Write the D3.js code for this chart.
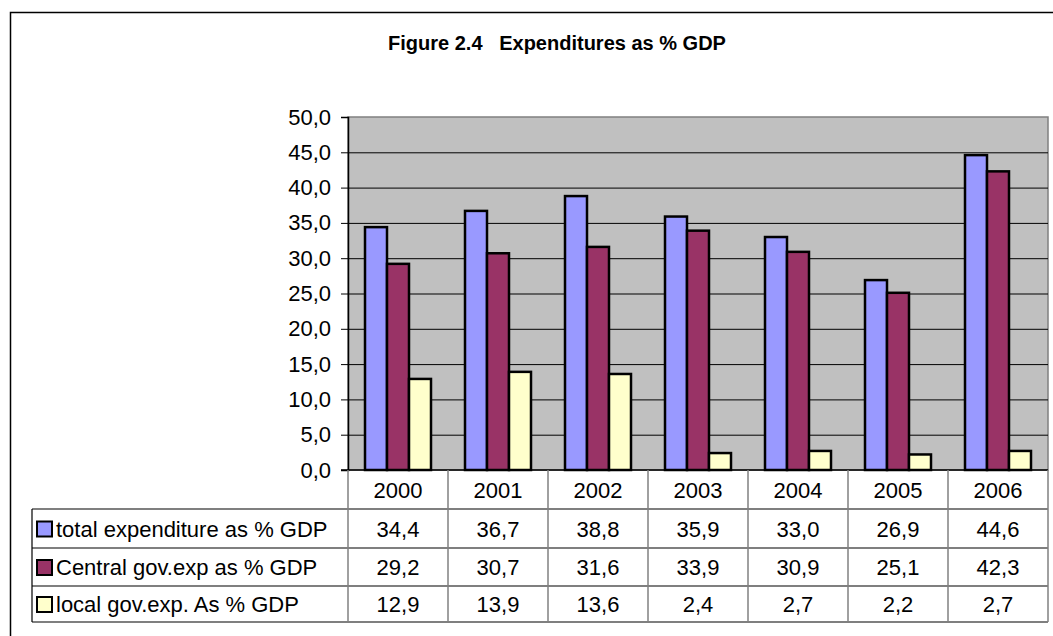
<!DOCTYPE html>
<html>
<head>
<meta charset="utf-8">
<script src="https://cdn.jsdelivr.net/npm/d3@7"></script>
<style>
  body { margin: 0; background: #fff; }
  svg { display: block; font-family: Arial, "Liberation Sans", sans-serif; }
</style>
</head>
<body>
<div id="chart"></div>
<script>
var years = ["2000", "2001", "2002", "2003", "2004", "2005", "2006"];
var seriesNames = ["total expenditure as % GDP", "Central gov.exp as % GDP", "local gov.exp. As % GDP"];
var totalExp = [34.4, 36.7, 38.8, 35.9, 33.0, 26.9, 44.6];
var centralExp = [29.2, 30.7, 31.6, 33.9, 30.9, 25.1, 42.3];
var localExp = [12.9, 13.9, 13.6, 2.4, 2.7, 2.2, 2.7];
var yTicks = [0, 5, 10, 15, 20, 25, 30, 35, 40, 45, 50];
var colors = ["#9999ff", "#993366", "#ffffcc"];

var series = [totalExp, centralExp, localExp];

var width = 1053, height = 636;
var svg = d3.select("#chart").append("svg")
    .attr("width", width)
    .attr("height", height);

// outer frame (cut off on right/bottom like the picture)
svg.append("rect")
    .attr("x", 10.5).attr("y", 12.5)
    .attr("width", 1060).attr("height", 650)
    .attr("fill", "#fff")
    .attr("stroke", "#000").attr("stroke-width", 1.5);

svg.append("text")
    .attr("x", 557).attr("y", 50)
    .attr("text-anchor", "middle")
    .attr("font-size", "20px")
    .attr("font-weight", "bold")
    .style("white-space", "pre")
    .text("Figure 2.4   Expenditures as % GDP");

var plot = { x0: 348, x1: 1048, y0: 117, y1: 470 };

var x = d3.scaleBand()
    .domain(years)
    .range([plot.x0, plot.x1])
    .paddingInner(0.34)
    .paddingOuter(0.17);

var xs = d3.scaleBand()
    .domain(d3.range(series.length))
    .range([0, x.bandwidth()]);

var y = d3.scaleLinear()
    .domain([0, 50])
    .range([plot.y1, plot.y0]);

// plot background
svg.append("rect")
    .attr("x", plot.x0).attr("y", plot.y0)
    .attr("width", plot.x1 - plot.x0).attr("height", plot.y1 - plot.y0)
    .attr("fill", "#c0c0c0")
    .attr("stroke", "#808080").attr("stroke-width", 1.5);

// gridlines
svg.append("g")
    .selectAll("line")
    .data(yTicks.filter(d => d > 0 && d < 50))
    .join("line")
      .attr("x1", plot.x0).attr("x2", plot.x1)
      .attr("y1", d => y(d) + 0.5).attr("y2", d => y(d) + 0.5)
      .attr("stroke", "#000").attr("stroke-width", 1);

// y axis
var yAxis = svg.append("g")
    .attr("transform", "translate(" + plot.x0 + ",0)")
    .call(d3.axisLeft(y)
        .tickValues(yTicks)
        .tickSize(7)
        .tickPadding(10)
        .tickFormat(d => d3.format(".1f")(d).replace(".", ",")));
yAxis.select(".domain").attr("stroke", "#000").attr("stroke-width", 1.5);
yAxis.selectAll(".tick line").attr("stroke", "#000");
yAxis.selectAll(".tick text")
    .attr("font-size", "22px")
    .attr("font-family", "Arial, 'Liberation Sans', sans-serif")
    .attr("fill", "#000");

// bars
var groups = svg.append("g")
    .selectAll("g")
    .data(years)
    .join("g")
      .attr("transform", d => "translate(" + x(d) + ",0)");

groups.selectAll("rect")
    .data((yr, i) => series.map((s, k) => ({ k: k, v: s[i] })))
    .join("rect")
      .attr("x", d => xs(d.k))
      .attr("y", d => y(d.v))
      .attr("width", xs.bandwidth())
      .attr("height", d => y(0) - y(d.v))
      .attr("fill", d => colors[d.k])
      .attr("stroke", "#000")
      .attr("stroke-width", 2.5);

// baseline
svg.append("line")
    .attr("x1", plot.x0 - 7).attr("x2", plot.x1)
    .attr("y1", plot.y1).attr("y2", plot.y1)
    .attr("stroke", "#000").attr("stroke-width", 1.5);

// data table
var rowsY = [470, 509, 548, 586, 622];
var tableLeft = 32;
var table = svg.append("g");

// horizontal lines
table.selectAll("line.h")
    .data(rowsY.slice(1))
    .join("line")
      .attr("class", "h")
      .attr("x1", tableLeft).attr("x2", plot.x1)
      .attr("y1", d => d).attr("y2", d => d)
      .attr("stroke", "#000").attr("stroke-width", 1.2);

// vertical lines between categories
var colEdges = years.map(d => x(d) - x.step() * 0.17).concat([plot.x1]);
table.selectAll("line.v")
    .data(colEdges)
    .join("line")
      .attr("class", "v")
      .attr("x1", d => d).attr("x2", d => d)
      .attr("y1", rowsY[0]).attr("y2", rowsY[4])
      .attr("stroke", "#808080").attr("stroke-width", 1.5);

table.append("line")
    .attr("x1", tableLeft).attr("x2", tableLeft)
    .attr("y1", rowsY[1]).attr("y2", rowsY[4])
    .attr("stroke", "#000").attr("stroke-width", 1.2);

// year headers
table.selectAll("text.year")
    .data(years)
    .join("text")
      .attr("class", "year")
      .attr("x", d => x(d) + x.bandwidth() / 2)
      .attr("y", (rowsY[0] + rowsY[1]) / 2 + 8)
      .attr("text-anchor", "middle")
      .attr("font-size", "22px")
      .text(d => d);

// legend rows
var rows = table.selectAll("g.row")
    .data(series)
    .join("g")
      .attr("class", "row")
      .attr("transform", (d, i) => "translate(0," + (rowsY[i + 1] + rowsY[i + 2]) / 2 + ")");

rows.append("rect")
    .attr("x", 37).attr("y", -7)
    .attr("width", 15).attr("height", 15)
    .attr("fill", (d, i) => colors[i])
    .attr("stroke", "#000").attr("stroke-width", 2);

rows.append("text")
    .attr("x", 56).attr("y", 8)
    .attr("font-size", "22px")
    .text((d, i) => seriesNames[i]);

rows.selectAll("text.val")
    .data(d => d)
    .join("text")
      .attr("class", "val")
      .attr("x", (d, i) => x(years[i]) + x.bandwidth() / 2)
      .attr("y", 8)
      .attr("text-anchor", "middle")
      .attr("font-size", "22px")
      .text(d => d3.format(".1f")(d).replace(".", ","));
</script>
</body>
</html>
